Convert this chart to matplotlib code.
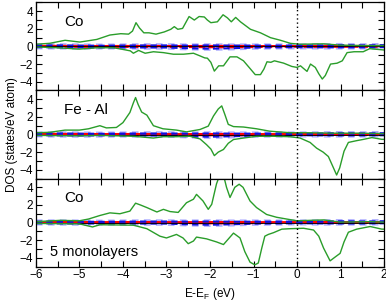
import matplotlib
matplotlib.use("Agg")
import matplotlib.pyplot as plt
from matplotlib.ticker import MultipleLocator

plt.rcParams['font.family'] = ['Liberation Sans', 'DejaVu Sans']

GREEN = "#2a9d2a"

# --- top panel: Co (surface) d states ---
co1_up_e = [-6, -5.68, -5.33, -4.99, -4.6, -4.3, -4.05, -3.87, -3.78, -3.7, -3.62, -3.52, -3.4,
            -3.24, -3.05, -2.9, -2.82, -2.74, -2.63, -2.48, -2.36, -2.25, -2.13, -2.06, -1.98,
            -1.83, -1.7, -1.6, -1.51, -1.41, -1.3, -1.07, -0.84, -0.61, -0.38, -0.15, 0.08,
            0.6, 1.0, 1.5, 2.0]
co1_up = [0.25, 0.36, 0.7, 0.5, 0.8, 1.3, 1.45, 1.4, 1.75, 2.7, 2.1, 1.55, 1.55,
          1.4, 1.65, 1.95, 2.25, 1.95, 2.05, 3.4, 3.0, 3.4, 3.35, 3.0, 2.7,
          2.8, 3.6, 3.25, 2.8, 3.3, 2.8, 1.95, 1.55, 1.0, 0.7, 0.35, 0.25,
          0.3, 0.15, 0.1, 0.1]
co1_dn_e = [-6, -5.5, -5.0, -4.6, -4.22, -4.04, -3.83, -3.76, -3.64, -3.49, -3.3, -3.07, -2.84,
            -2.61, -2.38, -2.23, -2.12, -2.06, -1.98, -1.9, -1.8, -1.69, -1.54, -1.38, -1.23,
            -1.07, -0.96, -0.84, -0.76, -0.69, -0.6, -0.52, -0.31, -0.12, 0.0, 0.08, 0.15,
            0.23, 0.31, 0.42, 0.5, 0.58, 0.65, 0.77, 0.92, 1.04, 1.15, 1.31, 1.52, 1.67, 2.0]
co1_dn = [-0.05, -0.15, -0.3, -0.15, -0.15, -0.3, -0.5, -0.77, -0.45, -0.77, -0.6, -0.7, -0.88,
          -0.88, -0.77, -1.07, -1.3, -1.33, -1.8, -2.8, -2.2, -2.2, -1.18, -1.18, -1.63,
          -2.56, -3.2, -3.2, -2.56, -1.74, -1.8, -1.63, -1.89, -2.27, -2.38, -2.2, -2.5,
          -2.83, -2.0, -2.38, -3.1, -3.7, -3.3, -2.0, -1.9, -1.63, -0.7, -0.6, -0.6, -0.25, -0.4]

# --- middle panel: Fe - Al ---
feal_up_e = [-6, -5.68, -5.33, -5.0, -4.79, -4.53, -4.38, -4.15, -4.0, -3.84, -3.76, -3.71,
             -3.65, -3.57, -3.45, -3.3, -3.08, -2.77, -2.54, -2.23, -2.04, -1.92, -1.81,
             -1.73, -1.66, -1.58, -1.46, -1.23, -0.93, -0.63, -0.16, 0.22, 0.8, 1.4, 2.0]
feal_up = [0.2, 0.25, 0.5, 0.5, 0.65, 1.0, 0.75, 0.8, 1.35, 2.5, 3.6, 4.2,
           3.4, 2.55, 2.2, 1.0, 0.65, 0.5, 0.3, 0.57, 0.95, 2.1, 2.9,
           3.25, 2.3, 1.15, 0.9, 0.85, 0.65, 0.38, 0.2, 0.2, 0.15, 0.15, 0.1]
feal_dn_e = [-6, -5.0, -4.53, -3.76, -3.3, -3.08, -2.77, -2.46, -2.23, -2.08, -1.98, -1.9,
             -1.81, -1.69, -1.58, -1.46, -1.23, -0.93, -0.54, -0.16, 0.07, 0.3, 0.45, 0.6,
             0.72, 0.82, 0.91, 0.98, 1.08, 1.18, 1.37, 1.53, 1.72, 1.95, 2.0]
feal_dn = [-0.1, -0.15, -0.1, -0.2, -0.4, -0.25, -0.25, -0.2, -0.5, -1.15, -1.65, -2.4,
           -2.0, -1.7, -1.0, -0.57, -0.4, -0.2, -0.2, -0.25, -0.4, -0.9, -1.55, -2.0,
           -2.5, -3.6, -4.6, -3.8, -1.9, -0.9, -0.7, -0.55, -0.35, -0.55, -0.55]

# --- bottom panel: Co (interface) ---
co2_up_e = [-6, -5.45, -5.0, -4.79, -4.53, -4.3, -4.07, -3.84, -3.71, -3.6, -3.45, -3.22,
            -3.07, -2.92, -2.73, -2.54, -2.38, -2.31, -2.16, -2.04, -1.96, -1.85, -1.76,
            -1.7, -1.62, -1.54, -1.43, -1.33, -1.24, -1.08, -0.93, -0.7, -0.47, -0.24, 0.0,
            0.61, 0.99, 1.68, 2.0]
co2_up = [0.1, 0.25, 0.2, 0.4, 0.8, 1.1, 1.0, 1.3, 2.2, 2.0, 1.7, 1.2,
          1.5, 1.25, 1.15, 2.25, 2.65, 3.2, 2.45, 1.5, 2.07, 4.4, 5.6,
          5.6, 4.0, 2.85, 4.0, 4.35, 4.0, 2.45, 1.7, 0.92, 0.6, 0.4, 0.2,
          0.3, 0.05, 0.1, 0.05]
co2_dn_e = [-6, -5.0, -4.7, -4.53, -3.76, -3.45, -3.15, -3.0, -2.77, -2.62, -2.5, -2.38,
            -2.31, -2.08, -1.85, -1.69, -1.46, -1.31, -1.2, -1.08, -0.97, -0.89, -0.81,
            -0.74, -0.66, -0.54, -0.35, -0.16, 0.15, 0.38, 0.5, 0.61, 0.76, 0.88, 0.99,
            1.08, 1.18, 1.37, 1.68, 1.95, 2.0]
co2_dn = [-0.1, -0.15, -0.5, -0.25, -0.3, -0.7, -1.55, -1.75, -1.35, -1.75, -2.4, -2.1,
          -1.65, -1.85, -2.2, -2.5, -1.2, -1.75, -3.3, -4.5, -4.8, -4.6, -2.9,
          -1.55, -1.35, -1.15, -0.75, -0.7, -0.65, -0.85, -1.55, -2.9, -4.35, -3.9, -3.5,
          -2.2, -1.1, -0.75, -0.45, -0.75, -0.75]

# small s / p contributions, same for all layers within reading accuracy
sp_e = [-6, -5.5, -5, -4.5, -4, -3.5, -3, -2.5, -2, -1.5, -1, -0.5, 0, 0.5, 1, 1.5, 2]
s_up = [0.05, 0.06, 0.05, 0.04, 0.05, 0.05, 0.04, 0.04, 0.05, 0.05, 0.04, 0.04, 0.04, 0.05, 0.05, 0.05, 0.05]
s_dn = [-0.04, -0.05, -0.05, -0.06, -0.06, -0.07, -0.07, -0.08, -0.1, -0.1, -0.08, -0.06, -0.05, -0.05, -0.05, -0.05, -0.05]
p_up = [0.1, 0.12, 0.1, 0.08, 0.1, 0.12, 0.12, 0.1, 0.12, 0.1, 0.1, 0.1, 0.1, 0.12, 0.15, 0.12, 0.15]
p_dn = [-0.08, -0.1, -0.12, -0.1, -0.1, -0.12, -0.12, -0.2, -0.25, -0.2, -0.12, -0.1, -0.08, -0.1, -0.1, -0.1, -0.08]

panels = [
    ("Co", co1_up_e, co1_up, co1_dn_e, co1_dn),
    ("Fe - Al", feal_up_e, feal_up, feal_dn_e, feal_dn),
    ("Co", co2_up_e, co2_up, co2_dn_e, co2_dn),
]

fig, axes = plt.subplots(3, 1, figsize=(3.86, 3.05), dpi=100, sharex=True)
fig.subplots_adjust(left=0.093, right=0.995, top=0.992, bottom=0.126, hspace=0)

for ax, (name, ue, u, de, d) in zip(axes, panels):
    # light blue thick dashes underneath, then red / blue on top
    ax.plot(sp_e, p_up, color="#9a9aff", lw=3.2, ls=(0, (1.5, 1.2)), alpha=0.8)
    ax.plot(sp_e, p_dn, color="#9a9aff", lw=3.2, ls=(0, (1.5, 1.2)), alpha=0.8)
    ax.plot(sp_e, s_up, color="red", lw=1.6)
    ax.plot(sp_e, s_dn, color="red", lw=1.3, ls="--")
    ax.plot(sp_e, p_up, color="#1010e0", lw=1.5, ls=(0, (3, 2)))
    ax.plot(sp_e, p_dn, color="#1010e0", lw=1.5, ls=(0, (3, 2)))
    ax.axhline(0, color="black", lw=0.6)
    ax.plot(ue, u, color=GREEN, lw=1.0)
    ax.plot(de, d, color=GREEN, lw=1.0)
    ax.axvline(0, color="black", lw=1.0, ls=(0, (1, 2)))

    ax.set_xlim(-6, 2)
    ax.set_ylim(-5, 5)
    ax.set_yticks([-4, -2, 0, 2, 4])
    ax.yaxis.set_minor_locator(MultipleLocator(1))
    ax.xaxis.set_major_locator(MultipleLocator(1))
    ax.xaxis.set_minor_locator(MultipleLocator(0.5))
    ax.tick_params(which="both", direction="in", top=True, right=True, labelsize=8.5,
                   length=4, width=0.8, pad=2)
    for sp in ax.spines.values():
        sp.set_linewidth(0.9)
    ax.text(0.08, 0.78, name, transform=ax.transAxes, fontsize=11, va="center")

axes[2].text(0.04, 0.165, "5 monolayers", transform=axes[2].transAxes, fontsize=10.5, va="center")
axes[2].set_xlabel("E-E$_\\mathregular{F}$ (eV)", fontsize=8.5, labelpad=3)
axes[1].set_ylabel("DOS (states/eV atom)", fontsize=8.5, labelpad=1)

fig.savefig("out.png", dpi=100)
